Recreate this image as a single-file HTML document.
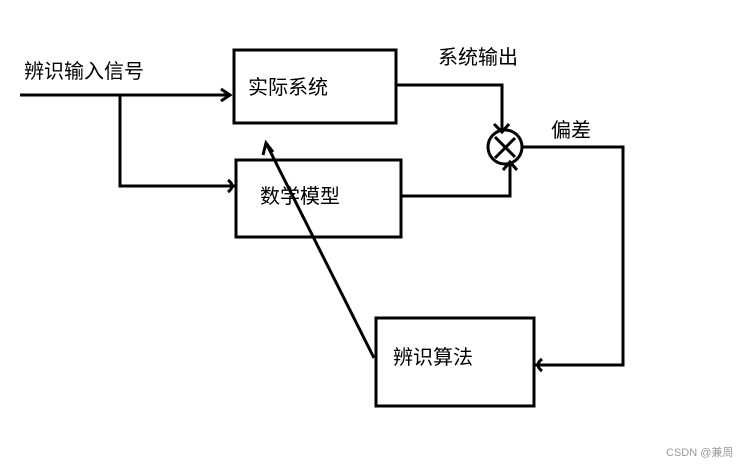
<!DOCTYPE html><html><head><style>body{margin:0;background:#fff}</style></head><body>
<svg width="749" height="466" xmlns="http://www.w3.org/2000/svg" style="font-family:'Liberation Sans','Noto Sans CJK SC',sans-serif">
<g fill="none" stroke="#000" stroke-width="3">
<rect x="234" y="50" width="162" height="73"/>
<rect x="236" y="160" width="165" height="77"/>
<rect x="376" y="318" width="158" height="88"/>
<path d="M20 95H230M221 89l9 6-9 6"/>
<path d="M120 95V186H236M228 180q8 6 0 12"/>
<path d="M396 85H502V132M494 124l8 8 7-8"/>
<path d="M401 196H510V162M503 170l7-8 7 8"/>
<circle cx="505" cy="147" r="17"/>
<path d="M495 158l20-20M495 137l20 20"/>
<path d="M522 147H623V365H534M542 359q-8 6 0 12"/>
<path d="M374 358L266 143M263 155l3-12 7 9"/>
</g>
<g font-size="20" fill="#000">
<text x="24" y="78">辨识输入信号</text>
<text x="248" y="94">实际系统</text>
<text x="260" y="203">数学模型</text>
<text x="393" y="364">辨识算法</text>
<text x="438" y="64">系统输出</text>
<text x="551" y="137">偏差</text>
</g>
<text x="666" y="456" font-size="11" fill="#999">CSDN @兼周</text>
</svg></body></html>
